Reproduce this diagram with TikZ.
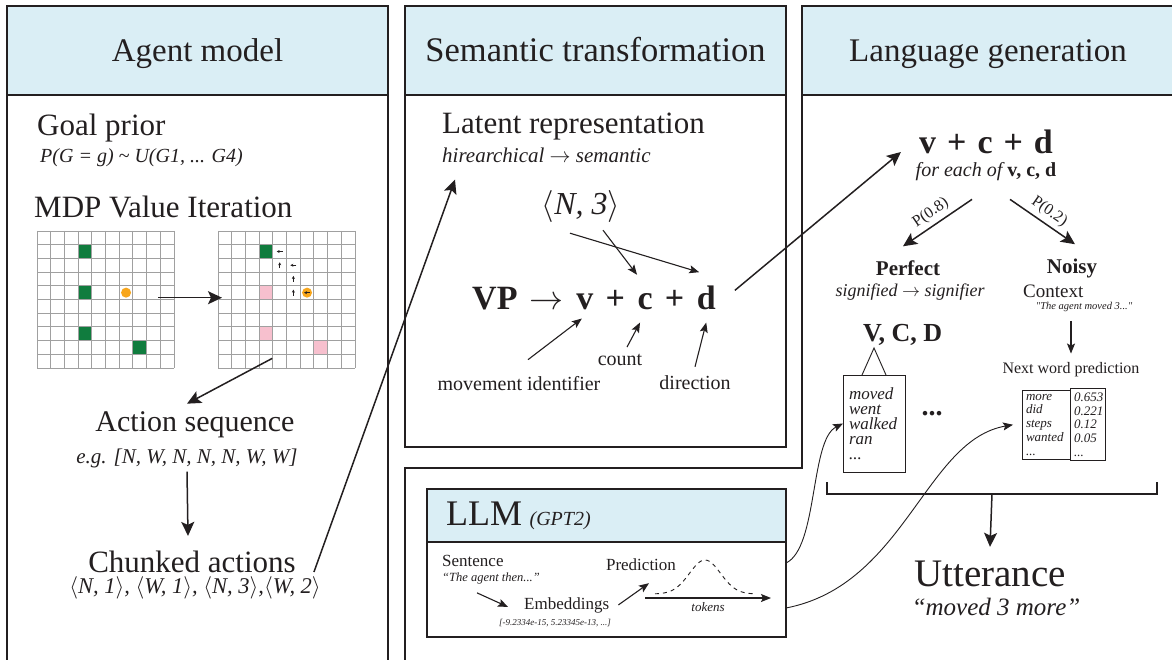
\RequirePackage{fix-cm}
\documentclass[tikz,border=0pt]{standalone}
\usepackage{fontspec}
\setmainfont{Liberation Serif}
\usetikzlibrary{arrows.meta,positioning}

\definecolor{hdrblue}{HTML}{DAEEF5}
\definecolor{goalgreen}{HTML}{107C3E}
\definecolor{visitpink}{HTML}{F7C0CE}
\definecolor{agentorange}{HTML}{F8A61B}
\definecolor{ink}{HTML}{231F20}
\definecolor{gridgray}{HTML}{A0A0A0}

\tikzset{
  panel/.style={draw=ink,line width=2.2pt,outer sep=0pt},
  hdr/.style={panel,fill=hdrblue,anchor=north west,minimum height=89pt,font=\fontsize{#1}{#1}\selectfont,text=ink,text height=25pt,text depth=3pt},
  txt/.style={font=\fontsize{#1}{#1}\selectfont,text=ink,inner sep=1pt},
  itx/.style={font=\fontsize{#1}{#1}\selectfont\itshape,text=ink,inner sep=1pt},
  bfx/.style={font=\fontsize{#1}{#1}\selectfont\bfseries,text=ink,inner sep=0pt},
  arr/.style={-{Stealth[length=14pt,width=13pt,inset=3pt]},line width=1.5pt,draw=ink},
  sarr/.style={-{Stealth[length=10pt,width=8pt,inset=2pt]},line width=1.1pt,draw=ink},
  curv/.style={-{Stealth[length=10pt,width=8pt,inset=2pt]},line width=0.9pt,draw=ink},
  cellarr/.style={-{Stealth[length=3pt,width=3pt]},line width=0.6pt,draw=ink},
  tbl/.style={draw=ink,line width=0.9pt,outer sep=0pt,font=\fontsize{13}{13.8}\selectfont\itshape,text=ink,align=left,inner sep=4pt},
}

\begin{document}
\begin{tikzpicture}[x=1pt,y=-1pt]
\useasboundingbox (0,0) rectangle (1172,660);
\fill[white] (0,0) rectangle (1172,660);

% panels
\node[hdr=33,minimum width=381pt] (hAgent) at (7,6) {Agent model};
\draw[panel] (hAgent.south west) -- (7,660);
\draw[panel] (hAgent.south east) -- (388,660);

\node[hdr=34.5,minimum width=381pt] (hSem) at (405,6) {Semantic transformation};
\draw[panel] (hSem.south west) rectangle (786,447);

\node[hdr=33,minimum width=372pt] (hLang) at (802,6) {Language generation};
\draw[panel] (hLang.south west) -- (802,468) -- (405,468) -- (405,660);

\node[panel,minimum width=359pt,minimum height=148pt,anchor=north west] (llm) at (427,489) {};
\draw[panel,fill=hdrblue] (llm.north west) rectangle ([yshift=-53pt]llm.north east);

% agent model
\node[txt=31,anchor=west] (goal) at (36,128) {Goal prior};
\node[itx=20,anchor=west] (goalp) at (39,158) {P(G = g) \textasciitilde{} U(G1, ... G4)};
\node[txt=31,anchor=west] (mdp) at (33,207) {MDP Value Iteration};

\foreach \gx in {37,218}
  \foreach \i in {0,...,10} {
    \draw[gridgray,line width=0.9pt] (\gx+\i*13.7,231) -- (\gx+\i*13.7,368);
    \draw[gridgray,line width=0.9pt] (\gx,231+\i*13.7) -- (\gx+137,231+\i*13.7);
  }
\begin{scope}[shift={(37,231)}]
  \foreach \c/\r in {3/1,3/4,3/7,7/8}
    \fill[goalgreen] (\c*13.7+0.5,\r*13.7+0.5) rectangle ++(12.7,12.7);
  \fill[agentorange] (6.5*13.7,4.5*13.7) circle (5pt);
\end{scope}
\begin{scope}[shift={(218,231)}]
  \fill[goalgreen] (3*13.7+0.5,1*13.7+0.5) rectangle ++(12.7,12.7);
  \foreach \c/\r in {3/4,3/7,7/8}
    \fill[visitpink] (\c*13.7+0.5,\r*13.7+0.5) rectangle ++(12.7,12.7);
  \fill[agentorange] (6.5*13.7,4.5*13.7) circle (5pt);
  \foreach \c/\r/\a in {4/1/180,4/2/90,5/2/180,5/3/90,5/4/90,6/4/180}
    \draw[cellarr] ({(\c+0.5)*13.7-3*cos(\a)},{(\r+0.5)*13.7+3*sin(\a)}) -- ++({6*cos(\a)},{-6*sin(\a)});
\end{scope}
\node[minimum size=137pt,inner sep=0pt,anchor=north west] (gridL) at (37,231) {};
\node[minimum size=137pt,inner sep=0pt,anchor=north west] (gridR) at (218,231) {};
\draw[arr] ([xshift=-16pt,yshift=2pt]gridL.east) -- ([xshift=4pt,yshift=2pt]gridR.west);

\node[txt=30] (act) at (195,425) {Action sequence};
\node[itx=21] (actd) at (187,458) {e.g. [N, W, N, N, N, W, W]};
\node[txt=31] (chunk) at (192,562) {Chunked actions};
\node[itx=22.5] (chd) at (195,588) {$\langle$N, 1$\rangle$, $\langle$W, 1$\rangle$, $\langle$N, 3$\rangle$,$\langle$W, 2$\rangle$};
\draw[arr] ([xshift=-14.5pt,yshift=10pt]gridR.south) -- ([xshift=-8pt,yshift=7pt]act.north);
\draw[arr] ([yshift=-3pt]actd.south) -- ([xshift=-4pt,yshift=14pt]chunk.north);

% semantic transformation
\node[txt=31,anchor=west] (lat) at (441,127) {Latent representation};
\node[itx=21,anchor=west] (hier) at (441,155) {hirearchical $\rightarrow$ semantic};
\node[txt=32] (n3) at (581,207) {$\langle$\textit{N, 3}$\rangle$};

\node[bfx=34,anchor=base west] (vp) at (472,309) {VP};
\node[bfx=34,base right=12pt of vp] (vparr) {$\rightarrow$};
\node[bfx=34,base right=12pt of vparr] (v) {v};
\node[bfx=34,base right=12pt of v] (pa) {+};
\node[bfx=34,base right=12pt of pa] (c) {c};
\node[bfx=34,base right=12pt of c] (pb) {+};
\node[bfx=34,base right=12pt of pb] (d) {d};

\node[txt=20] (mov) at (519,384) {movement identifier};
\node[txt=20] (cnt) at (620,360) {count};
\node[txt=20] (dir) at (695,383) {direction};

\draw[sarr] ([xshift=22pt,yshift=-6pt]n3.south) -- ([xshift=-8pt,yshift=18pt]c.north);
\draw[sarr] ([xshift=-11pt,yshift=-9pt]n3.south) -- ([xshift=-7pt,yshift=13pt]d.north);
\draw[sarr] ([xshift=9pt,yshift=16pt]mov.north) -- ([xshift=-3pt,yshift=-9pt]v.south);
\draw[sarr] ([xshift=7pt,yshift=6pt]cnt.north) -- ([xshift=-5pt,yshift=-13pt]c.south);
\draw[sarr] ([yshift=8pt]dir.north) -- ([yshift=-13pt]d.south);

\draw[arr] ([xshift=17pt,yshift=-10pt]chunk.east) -- ([xshift=14pt,yshift=-16pt]hier.south west);

% language generation
\node[bfx=34] (vcd) at (986,142) {v\hspace{11pt}+\hspace{11pt}c\hspace{11pt}+\hspace{11pt}d};
\node[itx=20] (each) at (986,172) {for each of \textbf{\upshape v, c, d}};
\draw[arr] ([xshift=19pt,yshift=7pt]d.east) -- ([xshift=-18pt,yshift=-10pt]vcd.west);

\node[bfx=21] (perf) at (908,268) {Perfect};
\node[itx=18] (sig) at (910,292) {signified $\rightarrow$ signifier};
\node[bfx=21] (noisy) at (1072,268) {Noisy};
\node[txt=19,anchor=west] (ctx) at (1022,291) {Context};
\node[itx=10.5] (ctxq) at (1084,307) {\textquotedbl The agent moved 3...\textquotedbl};
\draw[arr] ([xshift=-14pt,yshift=-17pt]each.south) -- node[txt=16,sloped,above=3pt] (p08) {P(0.8)} ([xshift=-5pt,yshift=14pt]perf.north);
\draw[arr] ([xshift=24pt,yshift=-17pt]each.south) -- node[txt=16,sloped,above=3pt] (p02) {P(0.2)} ([xshift=3pt,yshift=14pt]noisy.north);

\node[txt=16] (nwp) at (1071,370) {Next word prediction};
\draw[sarr] ([yshift=-8pt]nwp.north |- ctxq.south) -- ([yshift=8pt]nwp.north);
\node[tbl,text width=40pt,anchor=north west] (tw) at (1022,390) {more\\did\\steps\\wanted\\...};
\node[tbl,text width=27pt,right=0pt of tw] (tv) {0.653\\0.221\\0.12\\0.05\\...};

\node[bfx=26,anchor=west] (vcdcap) at (863,335) {V, C, D};
\node[draw=ink,line width=0.9pt,outer sep=0pt,font=\fontsize{17}{15}\selectfont\itshape,text=ink,align=left,text width=50pt,inner xsep=6pt,minimum height=97pt,anchor=north west] (wbox) at (843,375) {moved\\went\\walked\\ran\\...};
\draw[line width=0.9pt,ink] ([xshift=-12pt]wbox.north) -- ([yshift=27pt]wbox.north) -- ([xshift=12pt]wbox.north);
\node[bfx=28,anchor=base] (dots) at (932,415) {...};

\coordinate (brL) at (827,482);
\coordinate (brR) at (1157,482);
\coordinate (brM) at (992,494);
\draw[line width=1.5pt,ink] (brL) -- (brL |- brM) -- (brR |- brM) -- (brR);
\node[txt=39] (utt) at (990,574) {Utterance};
\node[itx=25] (uttq) at (996,607) {``moved 3 more''};
\draw[arr] (brM) -- ([yshift=13pt]utt.north);

% LLM
\node[txt=36,anchor=base west] (llmt) at (445,525) {LLM};
\node[itx=20,base right=5pt of llmt] (gpt) {(GPT2)};
\node[txt=17,anchor=base west] (sent) at (441,566) {Sentence};
\node[itx=12.5,anchor=base west] (sentq) at (441,581) {``The agent then...''};
\node[txt=17,anchor=base west] (emb) at (523,609) {Embeddings};
\node[itx=9] (embv) at (555,623) {[-9.2334e-15, 5.23345e-13, ...]};
\node[txt=17] (pred) at (641,565) {Prediction};
\draw[sarr] ([xshift=36pt,yshift=-8pt]sentq.south west) -- ([xshift=-15pt,yshift=-2pt]emb.west);
\draw[sarr] ([xshift=8pt]emb.east) -- ([xshift=8pt,yshift=-11pt]pred.south);
\draw[ink,line width=0.9pt,dash pattern=on 4pt off 4pt] plot[domain=655:753,samples=50,smooth] (\x,{594-34*exp(-((\x-705)/22)^2)});
\coordinate (tokA) at (645,598);
\coordinate (tokB) at (771,598);
\draw[sarr] (tokA) -- node[itx=13,below=3pt] (tok) {tokens} (tokB);

\draw[curv] (llm.east) .. controls (818,548) and (810,440) .. (wbox.west);
\draw[curv] ([yshift=-45pt]llm.east) .. controls (905,585) and (925,440) .. ([xshift=-9pt]tw.west);
\end{tikzpicture}
\end{document}
